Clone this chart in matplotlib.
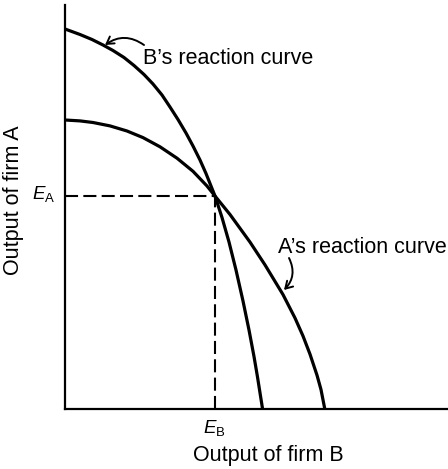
import matplotlib
matplotlib.use("Agg")
import matplotlib.pyplot as plt

plt.rcParams['font.family'] = ['Liberation Sans', 'DejaVu Sans']
plt.rcParams['mathtext.fontset'] = 'custom'
plt.rcParams['mathtext.rm'] = 'Liberation Sans'
plt.rcParams['mathtext.it'] = 'Liberation Sans:italic'
plt.rcParams['lines.scale_dashes'] = False

# Data (in arbitrary output units)
b_curve_x = [0, 15, 27, 38, 48, 59, 69, 79, 88, 97, 105, 113, 121, 128, 135, 141, 146, 150,
             157, 164, 171, 178, 184, 189, 192.5, 195.5, 197.5]
b_curve_y = [379.5, 374, 369, 363.5, 358, 351, 343, 334, 324.5, 313.5, 301.5, 289, 275.5, 262.5,
             248.5, 235, 222.5, 212.5, 191, 166.5, 138.5, 107.5, 78.5, 52, 31.5, 12.5, 0]
a_curve_x = [0, 15, 28, 45, 62, 78, 95, 112, 128, 142, 150, 165, 185, 200, 218, 230, 238,
             245, 252, 256, 259.7]
a_curve_y = [288.5, 287.6, 286, 282.6, 277.5, 270.9, 261.7, 250.3, 237.2, 222.5, 212.5, 194,
             166.4, 143.6, 113.9, 90.5, 72.5, 54.3, 33.3, 18.9, 0]
eq_b = 150
eq_a = 212.5
x_max = 383
y_max = 403.5

W, H = 448, 469
fig = plt.figure(figsize=(W / 100, H / 100), dpi=100)
ax = fig.add_axes([65 / W, (H - 408.5) / H, (W - 65) / W, 403.5 / H])
ax.set_xlim(0, x_max)
ax.set_ylim(0, y_max)
ax.set_xticks([])
ax.set_yticks([])
for s in ['top', 'right']:
    ax.spines[s].set_visible(False)
for s in ['left', 'bottom']:
    ax.spines[s].set_linewidth(1.6)
    ax.spines[s].set_color('black')

ax.plot(b_curve_x, b_curve_y, color='black', lw=2.3, solid_capstyle='butt',
        solid_joinstyle='round', clip_on=False)
ax.plot(a_curve_x, a_curve_y, color='black', lw=2.3, solid_capstyle='butt',
        solid_joinstyle='round', clip_on=False)

ax.plot([0, eq_b], [eq_a, eq_a], color='black', lw=1.5, dashes=(9.4, 3.8))
ax.plot([eq_b, eq_b], [0, eq_a], color='black', lw=1.5, dashes=(9.4, 3.8))

ax.text(-10, 209.5, r'$E_{\mathrm{A}}$', fontsize=13.5, ha='right', va='baseline')
ax.text(149, -24.5, r'$E_{\mathrm{B}}$', fontsize=13.5, ha='center', va='baseline', clip_on=False)

ax.text(78, 349.5, 'B\u2019s reaction curve', fontsize=15.5, ha='left', va='center')
ax.annotate('', xy=(40, 363.5), xytext=(79, 363.5),
            arrowprops=dict(arrowstyle='->,head_length=0.5,head_width=0.3', color='black', lw=1.4,
                            connectionstyle='arc3,rad=0.35', shrinkA=0, shrinkB=0))

ax.text(213, 161.5, 'A\u2019s reaction curve', fontsize=15.5, ha='left', va='center')
ax.annotate('', xy=(219, 118.5), xytext=(224, 150.5),
            arrowprops=dict(arrowstyle='->,head_length=0.5,head_width=0.3', color='black', lw=1.4,
                            connectionstyle='arc3,rad=-0.35', shrinkA=0, shrinkB=0))

fig.text(268 / W, 1 - 455 / H, 'Output of firm B', fontsize=15.5, ha='center', va='center')
fig.text(14 / W, 1 - 200 / H, 'Output of firm A', fontsize=15.5, ha='center', va='center', rotation=90)

fig.savefig('out.png', dpi=100)
